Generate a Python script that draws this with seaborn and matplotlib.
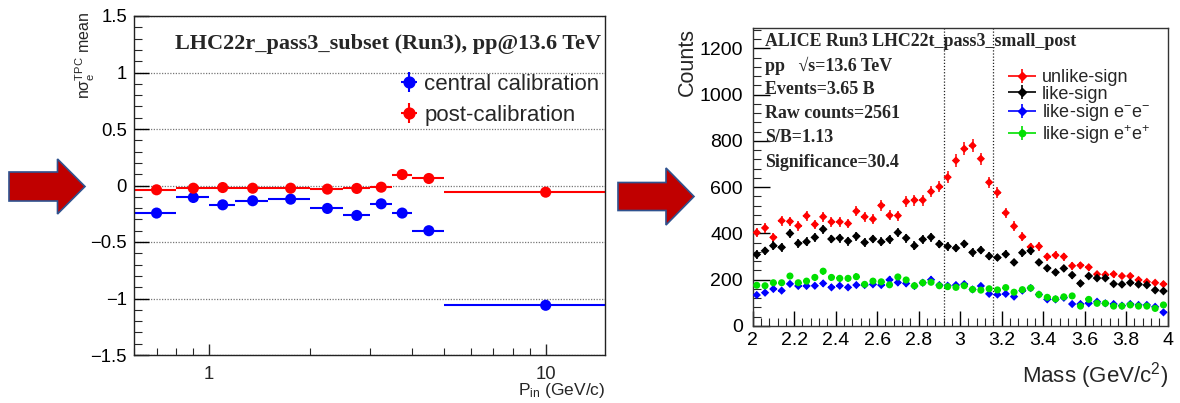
import numpy as np
import pandas as pd
import matplotlib
matplotlib.use("Agg")
import matplotlib.pyplot as plt
import seaborn as sns
from matplotlib.patches import Polygon
from matplotlib.legend_handler import HandlerErrorbar
from matplotlib.container import ErrorbarContainer
from matplotlib.ticker import MultipleLocator, FixedLocator, LogLocator, NullFormatter, FuncFormatter

# ---------------- left panel data ----------------
pin_center = [0.7, 0.9, 1.1, 1.35, 1.75, 2.25, 2.75, 3.25, 3.75, 4.5, 10.0]
pin_low = [0.6, 0.8, 1.0, 1.2, 1.5, 2.0, 2.5, 3.0, 3.5, 4.0, 5.0]
pin_high = [0.8, 1.0, 1.2, 1.5, 2.0, 2.5, 3.0, 3.5, 4.0, 5.0, 15.0]
mean_central = [-0.244, -0.106, -0.171, -0.135, -0.121, -0.203, -0.265, -0.162, -0.244, -0.400, -1.06]
mean_post = [-0.038, -0.024, -0.018, -0.024, -0.024, -0.032, -0.026, -0.015, 0.097, 0.062, -0.059]
left_labels = ["central calibration", "post-calibration"]
left_title = "LHC22r_pass3_subset (Run3), pp@13.6 TeV"

# ---------------- right panel data ----------------
mass_min, mass_max, n_bins = 2.0, 4.0, 50
unlike_sign = [404, 424, 383, 455, 452, 433, 476, 439, 472, 450, 450, 443, 496, 472, 462, 521, 478, 477, 538, 544,
               544, 581, 602, 643, 715, 766, 780, 723, 621, 577, 489, 431, 386, 342, 344, 300, 306, 300, 260, 262,
               254, 224, 222, 224, 216, 216, 199, 191, 187, 181]
like_sign = [309, 325, 347, 340, 400, 357, 364, 383, 418, 376, 380, 367, 388, 361, 376, 364, 374, 404, 380, 347,
             374, 384, 354, 344, 337, 355, 318, 328, 302, 296, 310, 275, 317, 325, 275, 250, 232, 249, 220, 184,
             216, 207, 207, 182, 180, 187, 180, 177, 155, 151]
like_mm = [134, 144, 160, 153, 182, 173, 173, 174, 184, 167, 174, 167, 177, 177, 180, 177, 200, 188, 184, 173,
           187, 200, 177, 174, 177, 181, 158, 173, 139, 136, 139, 127, 153, 164, 136, 115, 115, 122, 95, 95,
           98, 105, 98, 95, 88, 95, 91, 91, 83, 59]
like_pp = [176, 174, 187, 187, 216, 187, 194, 210, 237, 210, 206, 206, 213, 180, 194, 191, 178, 212, 199, 174,
           187, 189, 174, 170, 167, 174, 158, 155, 161, 156, 166, 146, 157, 164, 136, 124, 117, 126, 130, 86,
           115, 98, 98, 86, 86, 91, 86, 86, 76, 91]
mass_window = [2.92, 3.16]
right_labels = ["unlike-sign", "like-sign", "like-sign e$^{-}$e$^{-}$", "like-sign e$^{+}$e$^{+}$"]
info_lines = ["ALICE Run3 LHC22t_pass3_small_post", "pp   \u221as=13.6 TeV", "Events=3.65 B",
              "Raw counts=2561", "S/B=1.13", "Significance=30.4"]

# ---------------- style ----------------
sns.set_theme(style="white")
plt.rcParams['font.family'] = ['Liberation Sans', 'DejaVu Sans']
plt.rcParams['mathtext.fontset'] = 'custom'
plt.rcParams['mathtext.rm'] = 'Liberation Sans'
plt.rcParams['mathtext.it'] = 'Liberation Sans:italic'
plt.rcParams['mathtext.bf'] = 'Liberation Sans:bold'
plt.rcParams['mathtext.default'] = 'regular'
plt.rcParams['axes.unicode_minus'] = True

W, H = 1180, 403
fig = plt.figure(figsize=(W / 100, H / 100), dpi=100)
fig.patch.set_facecolor('white')


def px_axes(l, t, r, b):
    return [l / W, 1 - b / H, (r - l) / W, (b - t) / H]


ax1 = fig.add_axes(px_axes(134, 16, 605, 355))
ax2 = fig.add_axes(px_axes(752.6, 28, 1167.6, 326))

fmt_g = FuncFormatter(lambda v, p: ("%g" % v).replace("-", "\u2212"))

# ---------------- left panel ----------------
xc = np.array(pin_center)
xerr_l = [xc - np.array(pin_low), np.array(pin_high) - xc]
ax1.errorbar(xc, mean_post, xerr=xerr_l, fmt='none', ecolor='red', elinewidth=1.5, zorder=2)
ax1.errorbar(xc, mean_central, xerr=xerr_l, fmt='none', ecolor='blue', elinewidth=1.5, zorder=2)
sns.scatterplot(x=xc, y=mean_central, color='blue', s=64, edgecolor='none', ax=ax1, zorder=3, legend=False)
sns.scatterplot(x=xc, y=mean_post, color='red', s=64, edgecolor='none', ax=ax1, zorder=3, legend=False)

ax1.set_xscale('log')
ax1.set_xlim(0.6, 15)
ax1.set_ylim(-1.5, 1.5)
ax1.xaxis.set_major_locator(FixedLocator([1, 10]))
ax1.xaxis.set_major_formatter(fmt_g)
ax1.xaxis.set_minor_locator(LogLocator(base=10, subs=np.arange(2, 10)))
ax1.xaxis.set_minor_formatter(NullFormatter())
ax1.yaxis.set_major_locator(MultipleLocator(0.5))
ax1.yaxis.set_minor_locator(MultipleLocator(0.1))
ax1.yaxis.set_major_formatter(fmt_g)
ax1.grid(axis='y', which='major', linestyle=(0, (1, 1.2)), color='#777777', linewidth=0.9)
ax1.set_axisbelow(True)
ax1.tick_params(axis='y', which='major', direction='in', length=11, width=1, left=True, right=False,
                labelsize=13.3, pad=5, colors='black')
ax1.tick_params(axis='y', which='minor', direction='in', length=5.5, width=0.8, left=True, right=False)
ax1.tick_params(axis='x', which='major', direction='in', length=8, width=1, bottom=True, top=False,
                labelsize=13.3, pad=8)
ax1.tick_params(axis='x', which='minor', direction='in', length=5, width=0.8, bottom=True, top=False)
for s in ax1.spines.values():
    s.set_color('#222222')
    s.set_linewidth(1.0)

ax1.set_xlabel(r"P$_{in}$ (GeV/c)", fontsize=12.5)
ax1.xaxis.label.set_ha('right')
ax1.xaxis.set_label_coords(1.0, -0.078)
ax1.set_ylabel(r"n$\sigma_{e}^{TPC}$ mean", fontsize=11.5)
ax1.yaxis.label.set_ha('right')
ax1.yaxis.set_label_coords(-0.079, 1.012)

ax1.text(0.9915, 0.918, left_title, transform=ax1.transAxes, ha='right', va='center',
         fontfamily='Liberation Serif', fontweight='bold', fontsize=16)

h_c = ax1.errorbar([np.nan], [np.nan], xerr=[np.nan], yerr=[np.nan], fmt='o', color='blue', ms=7.8,
                   elinewidth=1.5)
h_p = ax1.errorbar([np.nan], [np.nan], xerr=[np.nan], yerr=[np.nan], fmt='o', color='red', ms=7.8,
                   elinewidth=1.5)
ax1.legend([h_c, h_p], left_labels, loc='upper left', bbox_to_anchor=(0.56, 0.83), fontsize=16,
           frameon=False, handlelength=1.0, handletextpad=0.2, borderpad=0, borderaxespad=0,
           labelspacing=0.45, handler_map={ErrorbarContainer: HandlerErrorbar(xerr_size=0.375, yerr_size=0.45)})

# ---------------- right panel ----------------
edges = np.linspace(mass_min, mass_max, n_bins + 1)
mc = 0.5 * (edges[:-1] + edges[1:])
half_w = 0.4 * (edges[1] - edges[0])
series = [(unlike_sign, 'red', 'D', 18), (like_sign, 'black', 'D', 20), (like_mm, 'blue', 'D', 18),
          (like_pp, '#00E000', 'o', 26)]
handles = []
for vals, col, mk, sz in series:
    v = np.array(vals, dtype=float)
    ax2.errorbar(mc, v, xerr=half_w, yerr=np.sqrt(v), fmt='none', ecolor=col, elinewidth=1.1, zorder=2)
    sns.scatterplot(x=mc, y=v, color=col, marker=mk, s=sz, edgecolor='none', ax=ax2, zorder=3, legend=False)
    handles.append(ax2.errorbar([np.nan], [np.nan], xerr=[np.nan], yerr=[np.nan], fmt=mk, color=col,
                                ms=4.5, elinewidth=1.2))

for mw in mass_window:
    ax2.axvline(mw, color='#222222', linestyle=(0, (1, 1.5)), linewidth=0.9, zorder=1)

ax2.set_xlim(mass_min, mass_max)
ax2.set_ylim(0, 1288)
ax2.xaxis.set_major_locator(MultipleLocator(0.2))
ax2.xaxis.set_minor_locator(MultipleLocator(0.04))
ax2.xaxis.set_major_formatter(fmt_g)
ax2.yaxis.set_major_locator(MultipleLocator(200))
ax2.yaxis.set_minor_locator(MultipleLocator(40))
ax2.yaxis.set_major_formatter(fmt_g)
ax2.tick_params(axis='both', which='major', direction='in', width=1, labelsize=14, colors='black')
ax2.tick_params(axis='y', which='major', length=12, left=True, right=False, pad=7)
ax2.tick_params(axis='y', which='minor', direction='in', length=6, width=0.8, left=True, right=False)
ax2.tick_params(axis='x', which='major', length=11, bottom=True, top=False, pad=4)
ax2.tick_params(axis='x', which='minor', direction='in', length=6, width=0.8, bottom=True, top=False)
for s in ax2.spines.values():
    s.set_color('#333333')
    s.set_linewidth(1.0)

ax2.set_xlabel(r"Mass (GeV/c$^{2}$)", fontsize=16)
ax2.xaxis.label.set_ha('right')
ax2.xaxis.set_label_coords(1.0, -0.114)
ax2.set_ylabel("Counts", fontsize=15.5)
ax2.yaxis.label.set_ha('right')
ax2.yaxis.set_label_coords(-0.1316, 1.0)

info_y = [0.954, 0.872, 0.794, 0.712, 0.632, 0.548]
for txt, yy in zip(info_lines, info_y):
    ax2.text(0.03, yy, txt, transform=ax2.transAxes, ha='left', va='center',
             fontfamily='Liberation Serif', fontweight='bold', fontsize=12.9)

ax2.legend(handles, right_labels, loc='upper left', bbox_to_anchor=(0.613, 0.862), fontsize=13,
           frameon=False, handlelength=1.66, handletextpad=0.28, borderpad=0, borderaxespad=0,
           labelspacing=-0.02, handler_map={ErrorbarContainer: HandlerErrorbar(xerr_size=0.8, yerr_size=0.39)})

# ---------------- arrows ----------------
def arrow_pts(x0, xb, xt, yc, bh, hh):
    pts = [(x0, yc - bh), (xb, yc - bh), (xb, yc - hh), (xt, yc), (xb, yc + hh), (xb, yc + bh), (x0, yc + bh)]
    return [(x / W, 1 - y / H) for x, y in pts]

for geo in [(9, 57.5, 85, 186.5, 14.5, 27.5), (618, 666, 694, 196.5, 14, 28.5)]:
    fig.add_artist(Polygon(arrow_pts(*geo), closed=True, transform=fig.transFigure,
                           facecolor='#C00000', edgecolor='#2F528F', linewidth=1.2))

fig.savefig("out.png", dpi=100, facecolor='white')
